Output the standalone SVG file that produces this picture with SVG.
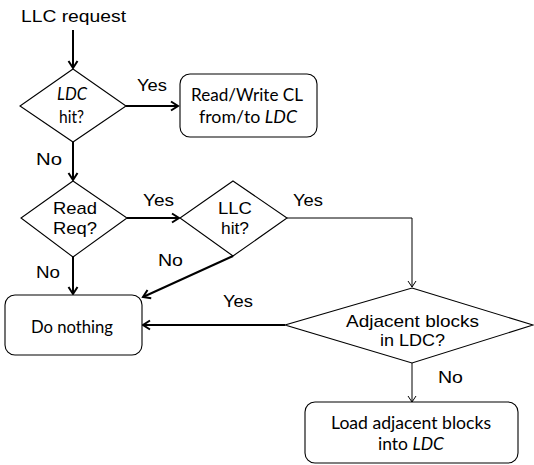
<svg xmlns="http://www.w3.org/2000/svg" width="534" height="465" viewBox="0 0 534 465">
  <style>
    .shape { fill: #ffffff; stroke: #000000; stroke-width: 1.1; }
    .arial { font-family: "Liberation Sans", Arial, sans-serif; font-size: 17px; fill: #000000; text-anchor: middle; }
    .cal { font-family: Lato, "Open Sans", sans-serif; font-size: 17px; fill: #000000; text-anchor: middle; }
    .it { font-style: italic; }
    .thick { fill: none; stroke: #000000; stroke-width: 2; }
    .thin { fill: none; stroke: #000000; stroke-width: 1; }
  </style>
  <defs>
    <marker id="headThick" markerUnits="userSpaceOnUse" markerWidth="12" markerHeight="12" refX="9" refY="6" orient="auto">
      <polyline points="2,1.5 9,6 2,10.5" fill="none" stroke="#000000" stroke-width="2"/>
    </marker>
    <marker id="headThin" markerUnits="userSpaceOnUse" markerWidth="12" markerHeight="12" refX="9" refY="6" orient="auto">
      <polyline points="3,2 9,6 3,10" fill="none" stroke="#000000" stroke-width="1"/>
    </marker>
  </defs>

  <text class="arial" x="73.5" y="21.5" textLength="105" lengthAdjust="spacingAndGlyphs">LLC request</text>

  <g id="connectors">
    <line class="thick" x1="73" y1="30" x2="73" y2="68" marker-end="url(#headThick)"/>
    <line class="thick" x1="126" y1="106" x2="178" y2="106" marker-end="url(#headThick)"/>
    <line class="thick" x1="73" y1="142" x2="73" y2="180" marker-end="url(#headThick)"/>
    <line class="thick" x1="127" y1="218" x2="179" y2="218" marker-end="url(#headThick)"/>
    <polyline class="thin" points="287,218 412,218 412,287" marker-end="url(#headThin)"/>
    <line class="thick" x1="73" y1="257" x2="73" y2="294" marker-end="url(#headThick)"/>
    <line class="thick" x1="233" y1="256" x2="143" y2="297" marker-end="url(#headThick)"/>
    <line class="thick" x1="285" y1="325" x2="143" y2="325" marker-end="url(#headThick)"/>
    <line class="thin" x1="412" y1="363" x2="412" y2="402" marker-end="url(#headThin)"/>

    <text class="arial" x="152" y="91" textLength="30" lengthAdjust="spacingAndGlyphs">Yes</text>
    <text class="arial" x="49" y="165" textLength="26" lengthAdjust="spacingAndGlyphs">No</text>
    <text class="arial" x="158.5" y="206" textLength="31" lengthAdjust="spacingAndGlyphs">Yes</text>
    <text class="arial" x="308" y="206" textLength="30" lengthAdjust="spacingAndGlyphs">Yes</text>
    <text class="arial" x="48" y="278" textLength="24" lengthAdjust="spacingAndGlyphs">No</text>
    <text class="arial" x="170.5" y="266" textLength="25" lengthAdjust="spacingAndGlyphs">No</text>
    <text class="arial" x="238" y="307" textLength="30" lengthAdjust="spacingAndGlyphs">Yes</text>
    <text class="arial" x="450.5" y="383" textLength="25" lengthAdjust="spacingAndGlyphs">No</text>
  </g>

  <g id="ldc-hit">
    <polygon class="shape" points="73,69 126,106 73,142 20,106"/>
    <text class="cal it" x="72" y="100" textLength="30" lengthAdjust="spacingAndGlyphs">LDC</text>
    <text class="cal" x="71.5" y="123" textLength="25" lengthAdjust="spacingAndGlyphs">hit?</text>
  </g>

  <g id="read-write">
    <rect class="shape" x="180" y="74" width="137" height="63" rx="10" ry="10"/>
    <text class="cal" x="247" y="101" textLength="112" lengthAdjust="spacingAndGlyphs">Read/Write CL</text>
    <text class="cal" x="248" y="123" textLength="98" lengthAdjust="spacingAndGlyphs">from/to <tspan class="it">LDC</tspan></text>
  </g>

  <g id="read-req">
    <polygon class="shape" points="73,181 127,218 73,257 21,218"/>
    <text class="arial" x="75" y="214" textLength="44" lengthAdjust="spacingAndGlyphs">Read</text>
    <text class="arial" x="75" y="234" textLength="44" lengthAdjust="spacingAndGlyphs">Req?</text>
  </g>

  <g id="llc-hit">
    <polygon class="shape" points="233,181 287,218 233,256 180,218"/>
    <text class="arial" x="235" y="214" textLength="34" lengthAdjust="spacingAndGlyphs">LLC</text>
    <text class="arial" x="235" y="234" textLength="28" lengthAdjust="spacingAndGlyphs">hit?</text>
  </g>

  <g id="do-nothing">
    <rect class="shape" x="5" y="295" width="137" height="60" rx="10" ry="10"/>
    <text class="cal" x="72" y="333" textLength="82" lengthAdjust="spacingAndGlyphs">Do nothing</text>
  </g>

  <g id="adjacent">
    <polygon class="shape" points="412,288 533,325 412,363 285,325"/>
    <text class="arial" x="412.5" y="327" textLength="133" lengthAdjust="spacingAndGlyphs">Adjacent blocks</text>
    <text class="arial" x="412.5" y="346" textLength="65" lengthAdjust="spacingAndGlyphs">in LDC?</text>
  </g>

  <g id="load-adjacent">
    <rect class="shape" x="305" y="402" width="213" height="61" rx="10" ry="10"/>
    <text class="cal" x="411" y="429" textLength="160" lengthAdjust="spacingAndGlyphs">Load adjacent blocks</text>
    <text class="cal" x="411" y="450" textLength="66" lengthAdjust="spacingAndGlyphs">into <tspan class="it">LDC</tspan></text>
  </g>
</svg>
